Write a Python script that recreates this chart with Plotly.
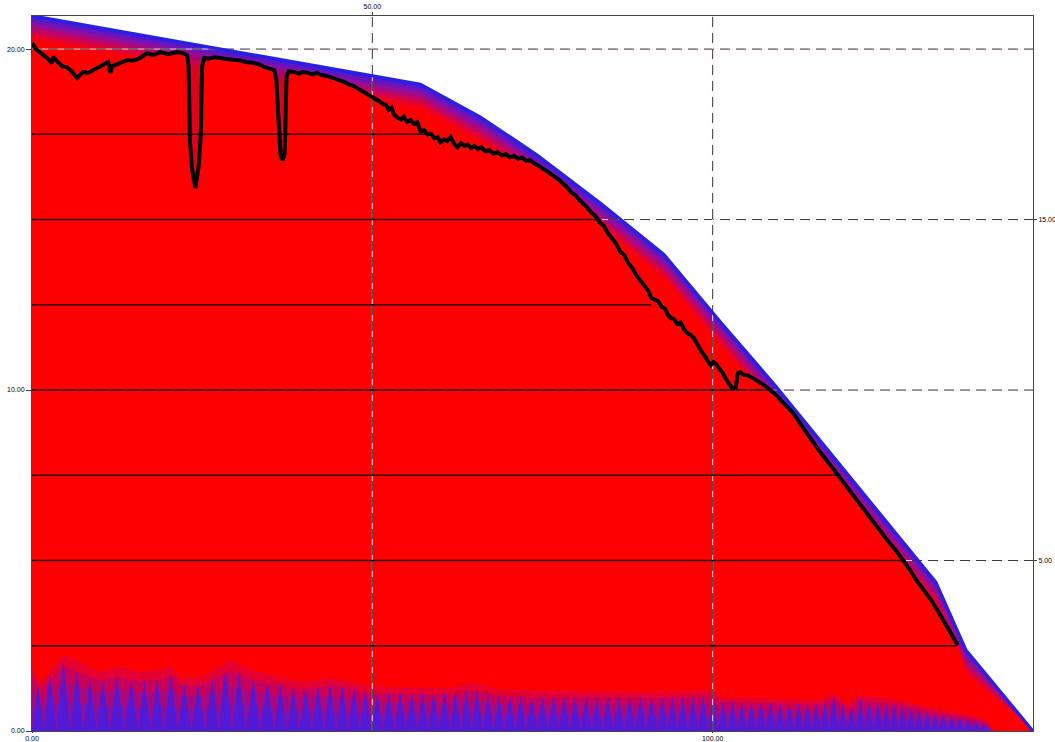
import numpy as np
import plotly.graph_objects as go

# ---- outer envelope (upper edge of the filled area) ----
env_x = [0.0, 57.06, 65.88, 74.26, 83.53, 92.79, 101.18, 109.26, 120.29, 132.79, 137.21, 147.06]
env_y = [20.98, 18.97, 18.01, 16.89, 15.48, 13.99, 11.99, 10.12, 7.42, 4.37, 2.38, 0.0]

# ---- measured profile (black curve), in pieces ----
lead_x = [0.0, 0.7, 1.5, 2.2, 2.9, 3.1, 3.8, 4.4, 5.1, 5.9, 6.6, 7.1, 7.5, 8.2, 9.0, 9.7,
          10.4, 11.2, 11.5, 11.8, 12.2, 13.1, 14.0, 14.9, 15.9, 16.9, 17.8, 18.8, 20.0, 21.3, 22.2]
lead_y = [20.18, 19.97, 19.85, 19.74, 19.59, 19.77, 19.62, 19.50, 19.47, 19.33, 19.15, 19.24, 19.33,
          19.30, 19.38, 19.44, 19.53, 19.62, 19.30, 19.50, 19.53, 19.59, 19.68, 19.66, 19.74, 19.88,
          19.82, 19.91, 19.85, 19.91, 19.88]

dip1_x = [22.8, 23.0, 23.1, 23.2, 23.5, 24.0, 24.5, 24.8, 24.9, 25.0, 25.3]
dip1_y = [19.82, 19.50, 18.50, 17.30, 16.50, 15.92, 16.60, 17.50, 18.60, 19.50, 19.74]

mid_x = [25.9, 26.8, 27.7, 28.6, 29.5, 30.4, 31.4, 32.4, 33.4, 34.3, 35.1]
mid_y = [19.72, 19.76, 19.73, 19.72, 19.69, 19.68, 19.62, 19.60, 19.55, 19.46, 19.42]

dip2_x = [35.6, 35.9, 36.1, 36.3, 36.5, 36.8, 37.1, 37.2, 37.3, 37.4, 37.7]
dip2_y = [19.38, 19.10, 18.20, 17.30, 16.90, 16.74, 16.90, 17.60, 18.50, 19.20, 19.35]

tail_x = [38.5, 39.2, 39.8, 40.5, 41.2, 41.8, 42.5, 43.2, 43.9, 44.5, 45.2, 45.9, 46.5, 47.2, 47.9,
          48.5, 49.2, 49.8, 50.4, 51.0, 51.5, 52.0, 52.4, 52.8, 53.2, 53.7, 54.2, 54.6, 55.1, 55.6,
          56.1, 56.6, 57.1, 57.6, 58.1, 58.6, 59.1, 59.6, 60.0, 60.5, 61.0, 61.5, 62.0, 62.5, 63.0,
          63.5, 64.0, 64.5, 65.0, 65.5, 66.0, 66.6, 67.2, 67.8, 68.4, 69.0, 69.6, 70.2, 70.8, 71.4,
          72.0, 72.6, 73.2, 73.8, 74.4, 75.0, 75.6, 76.2, 76.8, 77.4, 78.0, 78.6, 79.2, 79.8, 80.4,
          81.0, 81.6, 82.2, 82.8, 83.4, 84.0, 84.6, 85.2, 85.8, 86.4, 87.0, 87.6, 88.2, 88.8, 89.4,
          90.0, 90.5, 91.0, 91.5, 92.0, 92.5, 93.0, 93.4, 93.8, 94.3, 94.8, 95.3, 95.8, 96.3, 96.8,
          97.3, 97.8, 98.3, 98.8, 99.3, 99.7, 100.1, 100.5, 101.0, 101.5, 102.0, 102.5, 102.9, 103.4,
          103.7, 104.1, 104.6, 105.2, 105.8, 106.4, 107.0, 107.6, 108.2, 108.8, 109.4, 110.0, 110.6,
          111.2, 111.9, 112.9, 113.9, 114.9, 115.9, 116.9, 117.8, 118.8, 119.8, 120.8, 121.8, 122.8,
          123.7, 124.7, 125.8, 127.0, 128.1, 129.0, 129.9, 131.0, 132.1, 133.2, 134.3, 135.2, 136.0]
tail_y = [19.33, 19.28, 19.33, 19.30, 19.26, 19.31, 19.24, 19.22, 19.16, 19.13, 19.08, 19.04, 18.96,
          18.92, 18.84, 18.78, 18.70, 18.64, 18.55, 18.47, 18.40, 18.36, 18.22, 18.28, 18.08, 17.98,
          17.93, 18.02, 17.86, 17.92, 17.80, 17.85, 17.58, 17.62, 17.50, 17.52, 17.38, 17.42, 17.26,
          17.35, 17.30, 17.42, 17.22, 17.12, 17.24, 17.16, 17.20, 17.10, 17.16, 17.06, 17.12, 17.00,
          17.04, 16.93, 16.98, 16.88, 16.92, 16.82, 16.87, 16.78, 16.82, 16.72, 16.74, 16.64, 16.58,
          16.50, 16.43, 16.36, 16.26, 16.17, 16.06, 15.95, 15.80, 15.72, 15.58, 15.47, 15.34, 15.20,
          15.10, 14.92, 14.82, 14.60, 14.44, 14.30, 14.06, 13.96, 13.72, 13.58, 13.36, 13.20, 13.02,
          12.92, 12.70, 12.66, 12.60, 12.44, 12.38, 12.22, 12.12, 12.08, 11.94, 11.98, 11.78, 11.66,
          11.62, 11.50, 11.30, 11.15, 11.00, 10.84, 10.73, 10.82, 10.76, 10.62, 10.50, 10.30, 10.16,
          10.04, 10.08, 10.50, 10.52, 10.44, 10.43, 10.36, 10.30, 10.22, 10.14, 10.04, 9.95, 9.84,
          9.70, 9.58, 9.46, 9.31, 9.00, 8.70, 8.42, 8.15, 7.90, 7.66, 7.42, 7.15, 6.89, 6.63, 6.36,
          6.10, 5.84, 5.56, 5.27, 4.99, 4.72, 4.43, 4.14, 3.84, 3.48, 3.11, 2.80, 2.52]

# ---- level lines drawn from the left edge up to the profile ----
level_y = [2.5, 5.0, 7.5, 10.0, 12.5, 15.0, 17.5]
level_end_x = [136.0, 128.1, 118.8, 108.8, 91.0, 83.2, 58.3]

# ---- low band along the base ----
band_x = [0.0, 1.2, 4.6, 10.0, 12.5, 15.9, 19.3, 20.3, 21.8, 24.7, 29.1, 32.1, 36.5, 39.4, 44.3,
          50.0, 61.5, 64.7, 68.8, 92.4, 100.0, 101.2, 115.9, 117.8, 119.9, 121.3, 127.6, 132.1,
          136.5, 140.1, 141.3]
band_y = [1.88, 1.41, 2.23, 1.73, 1.88, 1.73, 1.79, 1.94, 1.58, 1.55, 2.08, 1.79, 1.58, 1.44, 1.55,
          1.29, 1.26, 1.41, 1.20, 1.14, 1.20, 1.00, 0.91, 1.14, 0.76, 1.06, 0.91, 0.67, 0.53, 0.32, 0.0]

spike_x = [0.9, 2.6, 4.6, 6.6, 8.5, 10.4, 12.5, 14.6, 16.5, 18.4,
           20.4, 22.4, 24.4, 26.5, 28.4, 30.4, 32.5, 34.6, 36.5, 38.4,
           40.2, 42.0, 43.8, 45.6, 47.3, 49.0, 50.7, 52.4, 54.1, 55.8,
           57.4, 59.0, 60.6, 62.2, 63.8, 65.4, 67.0, 68.6, 70.2, 71.8,
           73.4, 75.0, 76.6, 78.2, 79.8, 81.4, 83.0, 84.6, 86.2, 87.8,
           89.4, 91.0, 92.6, 94.1, 95.6, 97.1, 98.6, 100.1, 101.5, 102.9,
           104.3, 105.7, 107.1, 108.5, 109.9, 111.3, 112.6, 113.9, 115.2, 116.5,
           117.8, 119.1, 120.4, 121.7, 123.0, 124.3, 125.5, 126.7, 127.9, 129.1,
           130.3, 131.5, 132.7, 133.9, 135.1, 136.3, 137.5, 138.7, 139.9]
spike_h = [1.35, 1.70, 2.10, 1.75, 1.55, 1.50, 1.60, 1.50, 1.50, 1.55,
           1.65, 1.40, 1.40, 1.55, 1.85, 1.75, 1.55, 1.45, 1.40, 1.30,
           1.30, 1.35, 1.40, 1.35, 1.30, 1.20, 1.15, 1.15, 1.15, 1.15,
           1.15, 1.15, 1.15, 1.20, 1.25, 1.25, 1.10, 1.05, 1.05, 1.05,
           1.00, 1.00, 1.05, 1.00, 1.00, 1.00, 1.00, 1.00, 1.00, 1.00,
           1.00, 1.00, 1.00, 1.00, 1.00, 1.05, 1.05, 1.05, 0.90, 0.90,
           0.85, 0.85, 0.85, 0.85, 0.80, 0.80, 0.80, 0.80, 0.80, 0.90,
           1.05, 0.80, 0.70, 0.95, 0.90, 0.85, 0.80, 0.80, 0.75, 0.70,
           0.65, 0.60, 0.55, 0.50, 0.45, 0.40, 0.35, 0.30, 0.20]

# ---- axes ----
x_max = 147.06
y_max = 20.97
grid_h = [5.0, 10.0, 15.0, 20.0]
grid_v = [50.0, 100.0]
xtick_bottom = [0.0, 100.0]
xtick_top = [50.0]
ytick_left = [0.0, 10.0, 20.0]
ytick_right = [5.0, 15.0]

# ---- drawing styles ----
RED = "rgb(255,0,0)"
EDGE_BLUE = "rgb(38,32,232)"
fade_depth = [0.07, 0.14, 0.22, 0.30, 0.38, 0.47, 0.56, 0.66, 0.78]
fade_color = ["rgb(40,30,235)", "rgb(75,25,215)", "rgb(105,20,195)", "rgb(135,15,170)",
              "rgb(160,10,140)", "rgb(185,6,110)", "rgb(210,4,75)", "rgb(232,2,40)", "rgb(248,0,12)"]
band_scale = [1.0, 0.85, 0.65, 0.40]
band_color = ["rgb(228,0,48)", "rgb(200,0,90)", "rgb(170,8,125)", "rgb(140,15,160)"]

prof_x = np.array(lead_x + dip1_x + mid_x + dip2_x + tail_x)
prof_y = np.array(lead_y + dip1_y + mid_y + dip2_y + tail_y)

fig = go.Figure()


def add(tr):
    tr.update(hoverinfo="skip", showlegend=False)
    fig.add_trace(tr)


# red body under the envelope
add(go.Scatter(x=env_x, y=env_y, mode="lines", line=dict(width=0),
               fill="tozeroy", fillcolor=RED))

# colour fade hanging from the envelope, clipped at the profile
gx = np.union1d(prof_x, np.array(env_x))
ge = np.interp(gx, env_x, env_y)
gp = np.interp(gx, prof_x, prof_y, right=0.0)
add(go.Scatter(x=gx, y=ge, mode="lines", line=dict(width=0)))
for d, c in zip(fade_depth, fade_color):
    lower = np.maximum(np.maximum(ge - d, gp), 0.0)
    add(go.Scatter(x=gx, y=lower, mode="lines", line=dict(width=0),
                   fill="tonexty", fillcolor=c))

# darker tint inside the two notches
for dx, dy in ((dip1_x, dip1_y), (dip2_x, dip2_y)):
    add(go.Scatter(x=dx, y=dy, mode="lines", line=dict(width=0),
                   fill="toself", fillcolor="rgba(110,0,120,0.22)"))

# base band with its soft top
bx = np.array(band_x)
by = np.array(band_y)
for s, c in zip(band_scale, band_color):
    add(go.Scatter(x=bx, y=by * s, mode="lines", line=dict(width=0),
                   fill="tozeroy", fillcolor=c))

# saw-tooth spikes
sx, sy = [0.0], [0.0]
for i, (px, ph) in enumerate(zip(spike_x, spike_h)):
    sx.append(px)
    sy.append(ph)
    nxt = (px + spike_x[i + 1]) / 2 if i + 1 < len(spike_x) else px + 0.6
    sx.append(nxt)
    sy.append(0.0)
add(go.Scatter(x=sx, y=sy, mode="lines", line=dict(width=0),
               fill="tozeroy", fillcolor="rgba(70,28,225,0.85)"))

# dashed reference grid (light underlay + dark dashes)
hx, hy, vx, vy = [], [], [], []
for g in grid_h:
    hx += [0.0, x_max, None]
    hy += [g, g, None]
for g in grid_v:
    vx += [g, g, None]
    vy += [0.0, y_max, None]
for xs, ys in ((hx, hy), (vx, vy)):
    add(go.Scatter(x=xs, y=ys, mode="lines", line=dict(color="rgba(255,235,235,0.9)", width=1)))
    add(go.Scatter(x=xs, y=ys, mode="lines",
                   line=dict(color="rgb(55,55,55)", width=1, dash="10px,6px")))

# level lines
lx, ly = [], []
for lv, le in zip(level_y, level_end_x):
    lx += [0.0, le, None]
    ly += [lv, lv, None]
add(go.Scatter(x=lx, y=ly, mode="lines", line=dict(color="rgb(45,0,0)", width=1.5)))

# profile curve
add(go.Scatter(x=prof_x, y=prof_y, mode="lines", line=dict(color="black", width=4)))

# envelope edge
add(go.Scatter(x=env_x, y=env_y, mode="lines", line=dict(color=EDGE_BLUE, width=3)))

# companion axes for the top / right labels
add(go.Scatter(x=[None], y=[None], xaxis="x2", yaxis="y2", mode="lines"))

tick_font = dict(family="Liberation Sans Narrow, Liberation Sans, Arial, sans-serif",
                 size=7, color="black")


def fmt(v):
    return [f"{t:.2f}" for t in v]


common = dict(showgrid=False, zeroline=False, automargin=False, tickfont=tick_font,
              tickcolor="rgb(60,60,60)", ticks="outside")

fig.update_layout(
    template="none",
    width=1055, height=742,
    margin=dict(l=32, r=22, t=16, b=11, pad=0),
    paper_bgcolor="white", plot_bgcolor="white",
    showlegend=False,
    xaxis=dict(range=[0, x_max], showline=True, mirror=True,
               linecolor="rgb(70,70,70)", linewidth=1, tickvals=xtick_bottom,
               ticktext=fmt(xtick_bottom), ticklen=1, **common),
    xaxis2=dict(range=[0, x_max], overlaying="x", side="top", showline=False,
                tickvals=xtick_top, ticktext=fmt(xtick_top), ticklen=3, **common),
    yaxis=dict(range=[0, y_max], showline=True, mirror=True,
               linecolor="rgb(70,70,70)", linewidth=1, tickvals=ytick_left,
               ticktext=fmt(ytick_left), ticklen=5, **common),
    yaxis2=dict(range=[0, y_max], overlaying="y", side="right", showline=False,
                tickvals=ytick_right, ticktext=fmt(ytick_right), ticklen=3, **common),
)

fig.write_html("out.html")
